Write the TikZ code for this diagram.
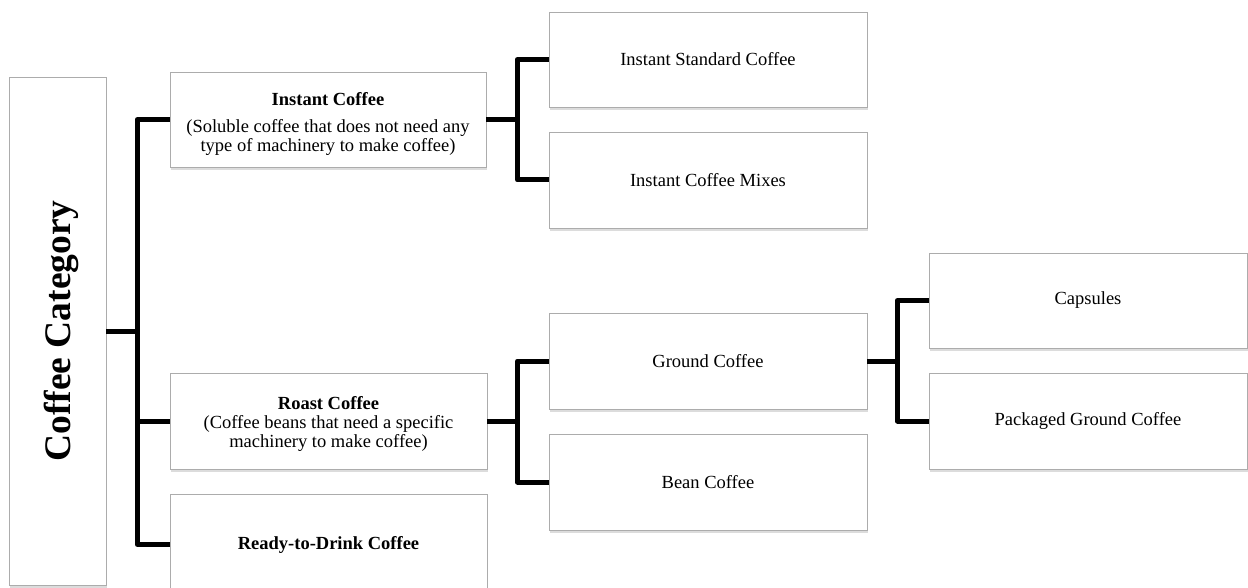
\documentclass[tikz,border=0pt]{standalone}
\usepackage{fontspec}
\setmainfont{Liberation Serif}
\usetikzlibrary{shadows}
\begin{document}
\begin{tikzpicture}[x=1pt,y=-1pt,
  box/.style={draw=gray!65, line width=0.8pt, fill=white,
    drop shadow={shadow xshift=1pt, shadow yshift=-3pt, opacity=0.28},
    inner sep=0pt, align=center, font=\fontsize{18.5}{19}\selectfont},
  conn/.style={line width=5pt, line join=round}]
\useasboundingbox (0,0) rectangle (1248,588);
% boxes
\node[box, minimum width=97pt, minimum height=508pt] (cat) at (57.5,331) {};
\node[rotate=90, anchor=base, inner sep=0pt, font=\fontsize{37.5}{40}\selectfont\bfseries] (cattext) at (70.5,331) {Coffee Category};
\node[box, minimum width=316pt, minimum height=95pt, font=\fontsize{18.5}{18}\selectfont] (inst) at (328,119.5)
  {\begin{tabular}{@{}c@{}}\rule{0pt}{23pt}\textbf{Instant Coffee}\\[9pt](Soluble coffee that does not need any\\type of machinery to make coffee)\end{tabular}};
\node[box, minimum width=317pt, minimum height=96pt] (roast) at (328.5,421)
  {\begin{tabular}{@{}c@{}}\rule{0pt}{20.5pt}\textbf{Roast Coffee}\\(Coffee beans that need a specific\\machinery to make coffee)\end{tabular}};
\node[box, minimum width=317pt, minimum height=101pt] (ready) at (328.5,544.5) {\textbf{Ready-to-Drink Coffee}};
\node[box, minimum width=318pt, minimum height=95pt] (isc) at (708,59.5) {Instant Standard Coffee};
\node[box, minimum width=318pt, minimum height=96pt] (icm) at (708,180) {Instant Coffee Mixes};
\node[box, minimum width=318pt, minimum height=96pt] (ground) at (708,361) {Ground Coffee};
\node[box, minimum width=318pt, minimum height=96pt] (bean) at (708,482) {Bean Coffee};
\node[box, minimum width=318pt, minimum height=95pt] (caps) at (1088,300.5) {Capsules};
\node[box, minimum width=318pt, minimum height=96pt] (pack) at (1088,421) {Packaged Ground Coffee};
% connectors
\path (cat.east) ++(31pt,0pt) coordinate (j1);
\draw[conn] (cat.east) -- (j1);
\draw[conn] (inst.west) -| (j1) |- (ready.west);
\draw[conn] (j1 |- roast.west) -- (roast.west);
\path (inst.east) ++(31pt,0pt) coordinate (j2);
\draw[conn] (inst.east) -- (j2);
\draw[conn] (isc.west) -| (j2) |- (icm.west);
\path (roast.east) ++(30pt,0pt) coordinate (j3);
\draw[conn] (roast.east) -- (j3);
\draw[conn] (ground.west) -| (j3) |- (bean.west);
\path (ground.east) ++(30pt,0pt) coordinate (j4);
\draw[conn] (ground.east) -- (j4);
\draw[conn] (caps.west) -| (j4) |- (pack.west);
\end{tikzpicture}
\end{document}
